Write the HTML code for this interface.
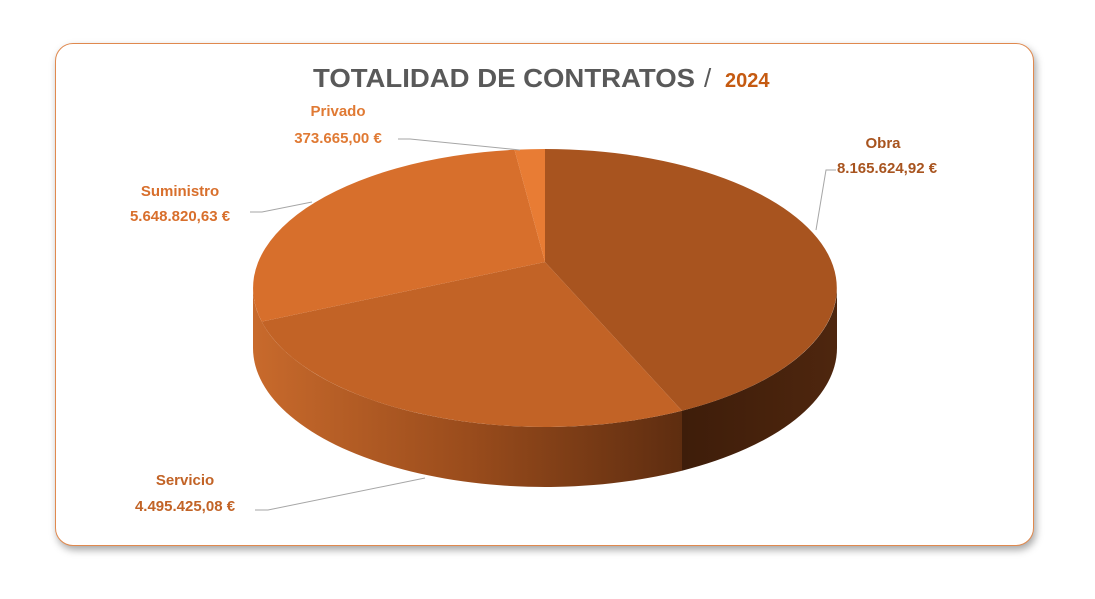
<!DOCTYPE html>
<html><head><meta charset="utf-8"><style>
html,body{margin:0;padding:0;background:#fff;}
body{width:1095px;height:599px;position:relative;overflow:hidden;font-family:"Liberation Sans",sans-serif;}
.card{position:absolute;left:55px;top:43px;width:977px;height:501px;border:1.5px solid #e0894e;border-radius:18px;background:#fff;box-shadow:2px 4px 8px rgba(0,0,0,0.35);}
</style></head><body>
<div class="card"></div>
<svg width="1095" height="599" style="position:absolute;left:0;top:0">
<defs>
<linearGradient id="sideL" x1="253" y1="0" x2="682" y2="0" gradientUnits="userSpaceOnUse">
<stop offset="0" stop-color="#c86a2c"/><stop offset="0.5" stop-color="#9a4c1c"/><stop offset="1" stop-color="#5e2d10"/></linearGradient>
<linearGradient id="sideR" x1="682" y1="0" x2="837" y2="0" gradientUnits="userSpaceOnUse">
<stop offset="0" stop-color="#3e1d0a"/><stop offset="1" stop-color="#4e260e"/></linearGradient>
</defs>
<text x="313" y="87" textLength="382" lengthAdjust="spacingAndGlyphs" font-size="26" font-weight="bold" fill="#595959">TOTALIDAD DE CONTRATOS</text>
<text x="704" y="87" font-size="26" fill="#595959">/</text>
<text x="725" y="87" font-size="20" font-weight="bold" fill="#c55a11">2024</text>
<!-- side -->
<path d="M253,288 A292,139 0 0 0 682,410.7 L682,470.7 A292,139 0 0 1 253,348 Z" fill="url(#sideL)"/>
<path d="M682,410.7 A292,139 0 0 0 837,288 L837,348 A292,139 0 0 1 682,470.7 Z" fill="url(#sideR)"/>
<!-- top slices -->
<path d="M545,262 L545,149 A292,139 0 0 1 682,410.7 Z" fill="#a8541f"/>
<path d="M545,262 L682,410.7 A292,139 0 0 1 261.7,321.6 Z" fill="#c26326"/>
<path d="M545,262 L261.7,321.6 A292,139 0 0 1 514.5,149.8 Z" fill="#d76f2c"/>
<path d="M545,262 L514.5,149.8 A292,139 0 0 1 545,149 Z" fill="#e87c34"/>
<!-- leaders -->
<g stroke="#a6a6a6" stroke-width="1" fill="none">
<polyline points="398,139 410,139 520,150"/>
<polyline points="250,212 262,212 312,202"/>
<polyline points="816,230 826,170 836,170"/>
<polyline points="255,510 268,510 425,478"/>
</g>
<g font-size="15" font-weight="bold" fill="#e07a34">
<text x="338" y="116" text-anchor="middle">Privado</text>
<text x="338" y="143" text-anchor="middle">373.665,00 €</text>
<text x="180" y="196" text-anchor="middle" fill="#d86f2c">Suministro</text>
<text x="180" y="221" text-anchor="middle" fill="#d86f2c">5.648.820,63 €</text>
<text x="883" y="148" text-anchor="middle" fill="#a8541f">Obra</text>
<text x="887" y="173" text-anchor="middle" fill="#a8541f">8.165.624,92 €</text>
<text x="185" y="485" text-anchor="middle" fill="#c26326">Servicio</text>
<text x="185" y="511" text-anchor="middle" fill="#c26326">4.495.425,08 €</text>
</g>
</svg>
</body></html>
